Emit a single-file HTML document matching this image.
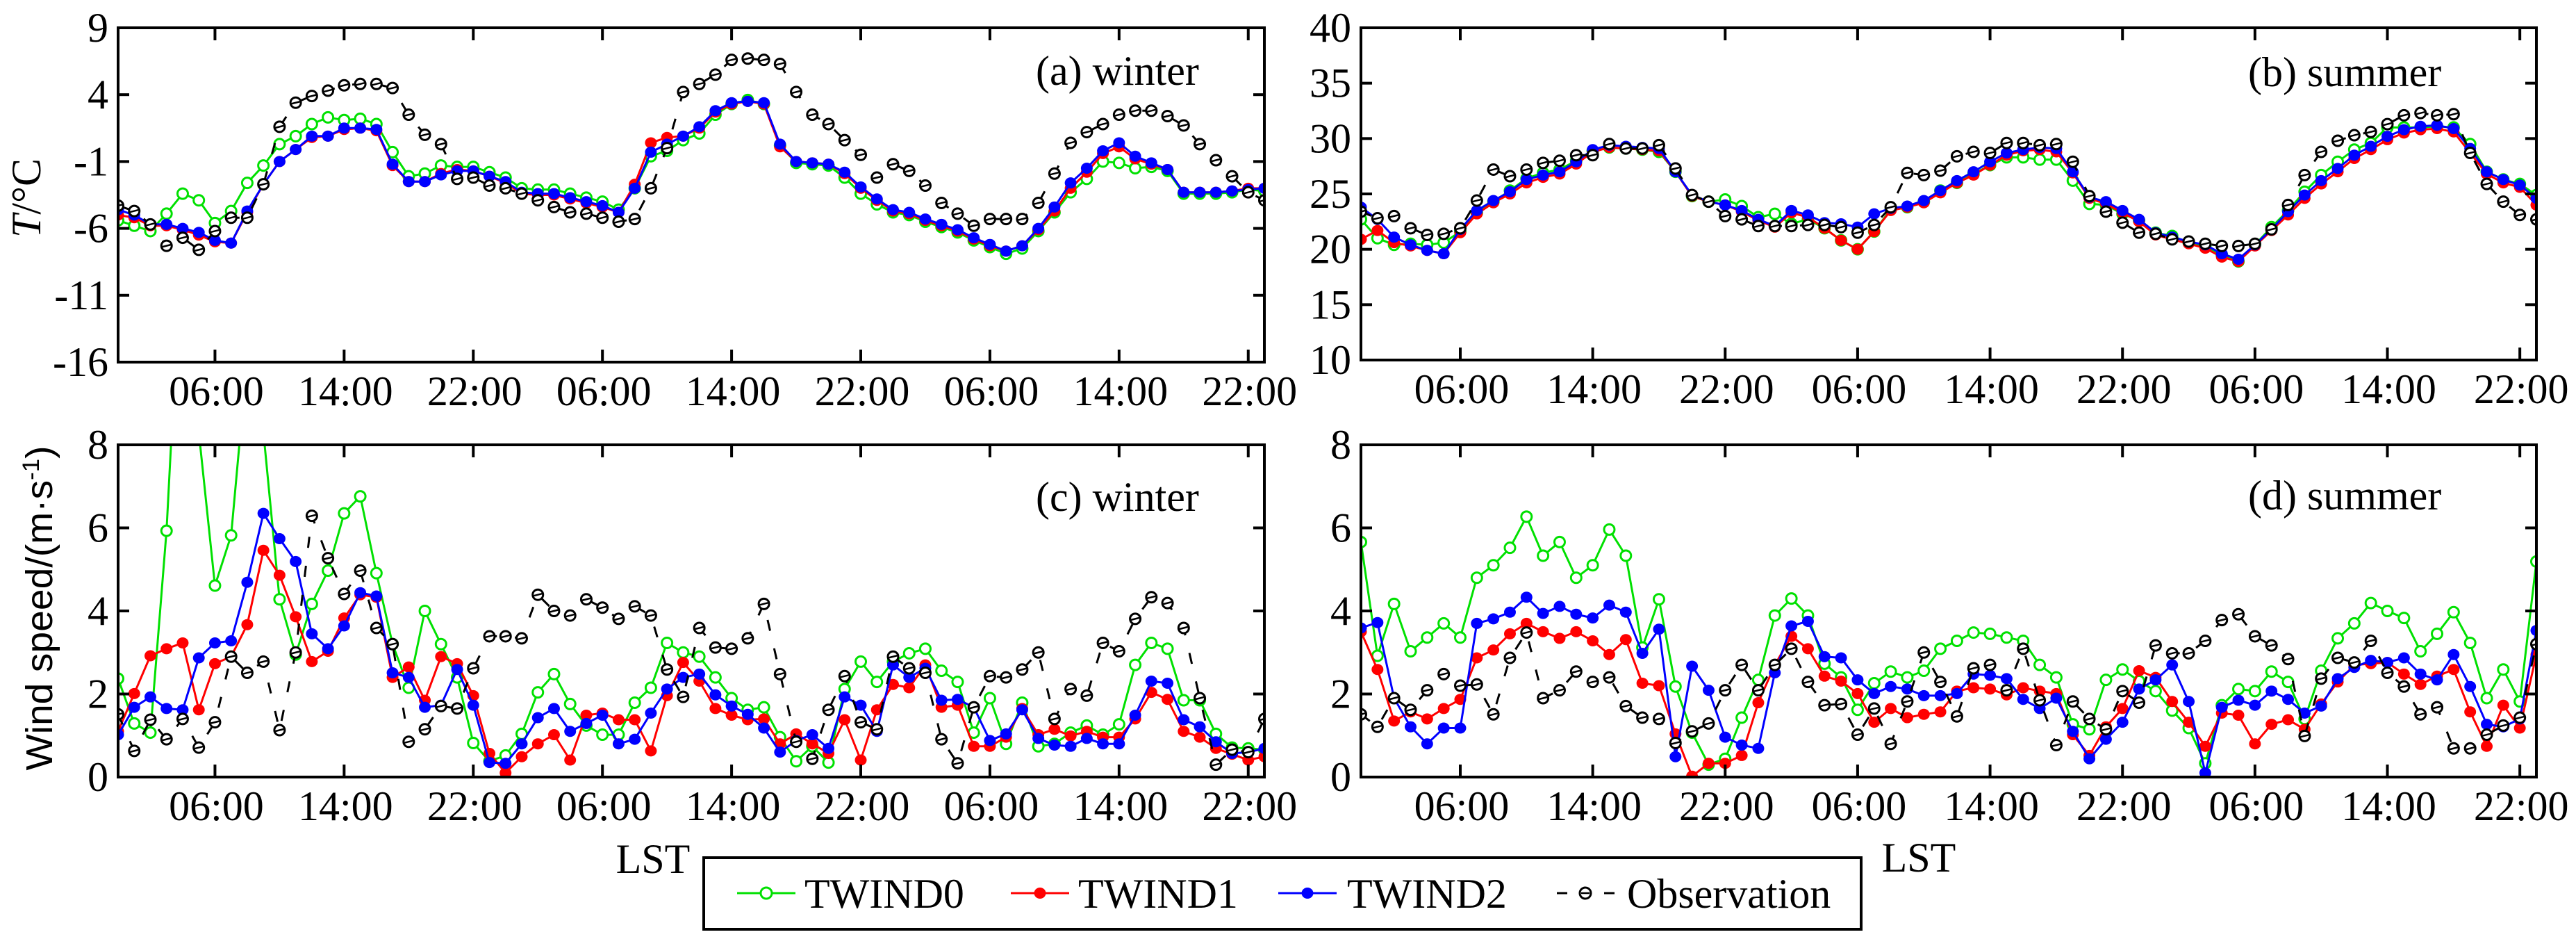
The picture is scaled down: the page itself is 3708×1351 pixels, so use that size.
<!DOCTYPE html>
<html><head><meta charset="utf-8"><style>
html,body{margin:0;padding:0;background:#fff;}
svg{display:block;font-family:"Liberation Serif",serif;}
</style></head><body>
<svg id="chart" width="3708" height="1351" viewBox="0 0 3708 1351" xmlns="http://www.w3.org/2000/svg">
<defs>
<clipPath id="clipA"><rect x="170" y="39" width="1652" height="483"/></clipPath>
<clipPath id="clipB"><rect x="1959" y="39" width="1694" height="479"/></clipPath>
<clipPath id="clipC"><rect x="170" y="640" width="1652" height="479"/></clipPath>
<clipPath id="clipD"><rect x="1959" y="640" width="1694" height="479"/></clipPath>
</defs>
<g id="layer"></g>
<text x="940" y="1256" font-size="60" text-anchor="middle">LST</text>
<text x="2762" y="1254" font-size="60" text-anchor="middle">LST</text>
<text transform="translate(58,285) rotate(-90)" font-size="60" text-anchor="middle"><tspan font-style="italic">T</tspan>/°C</text>
<text transform="translate(75,875) rotate(-90)" font-family="Liberation Sans, sans-serif" font-size="54" text-anchor="middle" textLength="467" lengthAdjust="spacingAndGlyphs">Wind speed/(m·s<tspan baseline-shift="super" font-size="34">-1</tspan>)</text>
<g>
<rect x="1013" y="1234" width="1666" height="103" fill="#fff" stroke="#000" stroke-width="4"/>
<g>
<line x1="1061" y1="1285" x2="1145" y2="1285" stroke="#00e000" stroke-width="3"/>
<ellipse cx="1103" cy="1285" rx="8" ry="8" fill="#fff" stroke="#00e000" stroke-width="3"/>
<text x="1158" y="1306" font-size="60">TWIND0</text></g>
<g>
<line x1="1455" y1="1285" x2="1539" y2="1285" stroke="#ff0000" stroke-width="3"/>
<ellipse cx="1497" cy="1285" rx="8.5" ry="8" fill="#ff0000"/>
<text x="1552" y="1306" font-size="60">TWIND1</text></g>
<g>
<line x1="1840" y1="1285" x2="1924" y2="1285" stroke="#0000ff" stroke-width="3"/>
<ellipse cx="1882" cy="1285" rx="8.5" ry="8" fill="#0000ff"/>
<text x="1939" y="1306" font-size="60">TWIND2</text></g>
<g>
<line x1="2241" y1="1285" x2="2256" y2="1285" stroke="#000" stroke-width="3"/>
<line x1="2309" y1="1285" x2="2324" y2="1285" stroke="#000" stroke-width="3"/>
<ellipse cx="2282" cy="1285" rx="8" ry="8" fill="#fff" stroke="#000" stroke-width="3"/>
<line x1="2276" y1="1285" x2="2288" y2="1285" stroke="#000" stroke-width="2.5"/>
<text x="2342" y="1306" font-size="60">Observation</text></g>
</g>
</svg>
<script>
// ---- data (hourly, 72 points) ----
const hours = [];
for (let i = 0; i < 72; i++) hours.push(i);
const xTickHours = [6, 14, 22, 30, 38, 46, 54, 62, 70];
const xTickLabels = ["06:00","14:00","22:00","06:00","14:00","22:00","06:00","14:00","22:00"];
const tTicksA = [9, 4, -1, -6, -11, -16];
const tTicksB = [40, 35, 30, 25, 20, 15, 10];
const wTicks = [8, 6, 4, 2, 0];

const aTWIND0 = [-5.4,-5.8,-6.2,-4.9,-3.4,-3.9,-5.6,-4.7,-2.6,-1.3,0.3,0.9,1.8,2.3,2.1,2.2,1.8,-0.3,-2.1,-1.9,-1.3,-1.4,-1.4,-1.8,-2.2,-3.0,-3.1,-3.1,-3.4,-3.7,-4.0,-4.6,-3.0,-0.6,-0.2,0.6,1.1,2.5,3.3,3.6,3.3,0.2,-1.1,-1.2,-1.3,-2.2,-3.4,-4.2,-4.8,-5.0,-5.5,-5.9,-6.3,-6.9,-7.4,-7.9,-7.5,-6.2,-4.8,-3.3,-2.3,-1.0,-1.1,-1.5,-1.4,-1.7,-3.4,-3.4,-3.4,-3.3,-3.1,-3.2];
const aTWIND1 = [-5.0,-5.2,-5.8,-5.8,-6.1,-6.5,-7.0,-7.1,-4.8,-2.7,-1.0,-0.1,0.8,0.9,1.4,1.5,1.3,-1.3,-2.5,-2.5,-1.9,-1.6,-1.7,-2.1,-2.6,-3.4,-3.5,-3.5,-3.8,-4.1,-4.4,-4.8,-2.7,0.4,0.8,0.9,1.5,2.7,3.3,3.5,3.3,0.1,-1.0,-1.1,-1.2,-1.9,-3.0,-3.9,-4.7,-4.9,-5.4,-5.8,-6.2,-6.8,-7.3,-7.7,-7.3,-6.1,-4.7,-3.0,-1.8,-0.4,0.1,-0.8,-1.2,-1.6,-3.3,-3.3,-3.3,-3.2,-3.0,-3.0];
const aTWIND2 = [-4.6,-5.0,-5.7,-5.7,-6.0,-6.3,-6.9,-7.1,-4.7,-2.7,-1.0,-0.1,0.9,0.9,1.5,1.5,1.4,-1.2,-2.5,-2.5,-2.0,-1.7,-1.7,-2.1,-2.5,-3.3,-3.4,-3.4,-3.7,-4.0,-4.3,-4.8,-3.0,-0.3,0.3,0.9,1.6,2.8,3.4,3.5,3.4,0.3,-1.0,-1.1,-1.2,-1.8,-2.9,-3.8,-4.6,-4.8,-5.3,-5.7,-6.1,-6.7,-7.2,-7.7,-7.3,-6.0,-4.4,-2.6,-1.5,-0.2,0.4,-0.6,-1.1,-1.6,-3.3,-3.3,-3.3,-3.2,-3.1,-3.0];
const aObs = [-4.3,-4.7,-5.7,-7.3,-6.7,-7.6,-6.2,-5.2,-5.2,-2.7,1.6,3.4,3.9,4.3,4.7,4.8,4.8,4.5,2.5,1.0,0.3,-2.3,-2.2,-2.8,-3.0,-3.4,-3.9,-4.4,-4.8,-4.9,-5.2,-5.5,-5.3,-3.0,0.0,4.2,4.8,5.5,6.6,6.7,6.6,6.3,4.2,2.5,1.8,0.6,-0.5,-2.2,-1.2,-1.7,-2.8,-4.1,-4.9,-5.8,-5.3,-5.3,-5.3,-4.1,-1.9,0.4,1.2,1.8,2.5,2.8,2.8,2.4,1.7,0.3,-0.9,-2.1,-3.3,-3.9];

const bTWIND0 = [22.7,21.0,20.4,20.5,20.4,20.6,21.6,23.3,24.3,25.3,26.4,26.9,27.2,28.0,28.9,29.2,29.1,29.0,28.8,27.0,24.8,24.3,24.5,23.9,22.9,23.2,22.3,22.7,21.9,20.8,20.0,21.6,23.6,23.8,24.3,25.3,26.0,26.8,27.6,28.3,28.3,28.1,28.1,26.2,24.1,24.0,23.2,22.6,21.5,21.2,20.6,20.3,19.5,18.9,20.4,22.0,23.5,25.2,26.7,27.9,29.0,29.6,31.0,31.0,31.0,31.1,31.0,29.5,27.0,26.3,25.9,24.9];
const bTWIND1 = [20.9,21.7,20.6,20.3,19.9,19.6,21.5,23.2,24.2,25.0,26.0,26.5,26.8,27.7,28.8,29.2,29.1,29.0,28.9,27.0,24.8,24.3,24.0,23.4,22.6,22.0,23.3,22.9,21.9,20.8,20.0,21.6,23.5,23.8,24.2,25.1,26.0,26.7,27.6,28.5,28.9,29.0,28.8,26.9,24.6,24.1,23.3,22.5,21.3,20.9,20.5,20.1,19.3,18.9,20.3,21.7,23.1,24.6,25.9,27.0,28.2,29.0,29.9,30.5,30.8,30.9,30.6,28.7,26.8,26.0,25.6,24.0];
const bTWIND2 = [23.8,22.7,21.1,20.4,19.9,19.6,21.8,23.5,24.4,25.2,26.3,26.7,27.0,27.9,29.0,29.4,29.3,29.2,29.1,27.0,24.9,24.3,24.0,23.5,22.7,22.1,23.5,23.1,22.4,22.3,22.0,23.2,23.7,23.9,24.4,25.3,26.2,27.0,27.9,28.7,29.0,29.2,29.1,27.0,24.7,24.3,23.5,22.7,21.5,21.1,20.7,20.4,19.6,19.1,20.4,21.8,23.4,24.9,26.2,27.3,28.5,29.3,30.2,30.8,31.1,31.2,30.9,29.1,27.0,26.3,25.8,24.6];
const bObs = [23.4,22.8,23.0,21.9,21.3,21.4,21.9,24.4,27.2,26.6,27.2,27.8,28.0,28.5,28.5,29.5,29.1,29.1,29.4,27.3,24.9,24.3,23.0,22.7,22.1,22.1,22.1,22.2,22.2,22.0,21.5,22.2,23.8,26.9,26.7,27.1,28.4,28.8,28.7,29.6,29.6,29.4,29.5,27.9,24.8,23.4,22.4,21.5,21.4,20.9,20.7,20.5,20.3,20.3,20.5,21.8,24.0,26.7,28.8,29.8,30.3,30.6,31.3,32.1,32.3,32.1,32.2,28.7,25.9,24.3,23.1,22.7];

const cTWIND0 = [2.37,1.29,1.07,5.93,13.4,8.3,4.61,5.82,10.1,8.3,4.28,2.95,4.17,4.97,6.35,6.76,4.91,3.2,2.15,4.0,3.2,2.4,0.82,0.38,0.52,1.04,2.04,2.48,1.76,1.24,1.02,1.02,1.79,2.15,3.23,3.0,2.9,2.4,1.9,1.62,1.68,0.96,0.38,0.74,0.35,2.12,2.78,2.29,2.78,2.98,3.09,2.56,2.29,1.07,1.9,0.8,1.79,0.74,0.8,1.07,1.24,1.02,1.27,2.7,3.23,3.09,1.85,1.85,1.04,0.71,0.69,0.66];
const cTWIND1 = [1.1,2.01,2.92,3.09,3.23,1.62,2.73,2.9,3.67,5.46,4.86,3.86,2.78,3.03,3.83,4.39,4.33,2.4,2.65,1.85,2.9,2.73,1.96,0.57,0.1,0.49,0.8,1.02,0.41,1.49,1.54,1.38,1.38,0.63,1.96,2.76,2.31,1.65,1.49,1.38,1.4,0.8,1.04,0.8,0.57,1.38,0.41,1.62,2.23,2.15,2.7,1.68,1.73,0.74,0.74,0.96,1.65,1.02,1.15,0.99,1.1,0.96,0.96,1.4,2.04,1.87,1.1,0.96,0.69,0.55,0.41,0.49];
const cTWIND2 = [1.02,1.68,1.93,1.65,1.62,2.87,3.23,3.28,4.69,6.35,5.74,5.19,3.45,3.09,3.64,4.44,4.36,2.51,2.4,1.68,1.73,2.59,1.73,0.35,0.33,0.8,1.43,1.65,1.1,1.29,1.49,0.8,0.91,1.54,2.12,2.4,2.48,1.98,1.71,1.51,1.18,0.6,0.88,1.02,0.69,1.93,1.73,1.1,2.7,2.4,2.62,1.85,1.87,1.68,0.88,1.04,1.62,0.93,0.77,0.74,0.93,0.8,0.8,1.49,2.31,2.26,1.38,1.21,0.85,0.57,0.6,0.69];
const cObs = [1.51,0.63,1.38,0.91,1.4,0.71,1.32,2.9,2.51,2.78,1.13,3.0,6.29,5.27,4.41,4.97,3.59,3.2,0.85,1.15,1.71,1.65,2.62,3.39,3.39,3.34,4.39,4.0,3.89,4.28,4.08,3.81,4.11,3.89,2.59,1.93,3.59,3.12,3.09,3.34,4.17,2.48,0.85,0.44,1.62,2.43,1.32,1.15,2.9,2.62,2.51,0.91,0.33,1.68,2.43,2.4,2.59,3.0,1.4,2.12,1.96,3.23,3.03,3.81,4.33,4.19,3.59,1.9,0.3,0.66,0.6,1.4];

const dTWIND0 = [5.66,2.92,4.17,3.03,3.36,3.7,3.36,4.8,5.1,5.52,6.27,5.33,5.66,4.8,5.1,5.96,5.33,3.12,4.28,2.18,1.07,0.3,0.44,1.43,2.34,3.89,4.3,3.89,2.73,2.4,1.62,2.26,2.54,2.4,2.56,3.09,3.28,3.48,3.45,3.36,3.28,2.7,2.4,1.27,1.15,2.34,2.59,2.31,2.07,1.6,1.18,0.33,1.73,2.12,2.07,2.54,2.29,1.4,2.56,3.34,3.7,4.19,4.0,3.83,3.03,3.45,3.97,3.23,1.9,2.59,1.82,5.19];
const dTWIND1 = [3.5,2.59,1.35,1.57,1.4,1.65,1.87,2.87,3.06,3.45,3.7,3.5,3.34,3.5,3.28,2.95,3.31,2.26,2.2,1.04,0.02,0.33,0.33,0.52,1.79,2.7,3.39,3.09,2.43,2.31,2.01,1.32,1.65,1.43,1.51,1.57,2.07,2.15,2.12,1.98,2.15,2.07,2.01,1.02,0.52,1.21,1.65,2.56,2.4,1.82,1.32,0.74,1.54,1.49,0.8,1.27,1.38,1.15,1.76,2.29,2.7,2.73,2.76,2.48,2.23,2.43,2.59,1.57,0.74,1.73,1.18,2.95];
const dTWIND2 = [3.59,3.72,1.9,1.21,0.8,1.18,1.18,3.7,3.81,3.97,4.33,3.94,4.11,3.92,3.83,4.14,3.97,2.98,3.56,0.49,2.67,2.09,0.96,0.77,0.69,2.51,3.64,3.75,2.9,2.87,2.34,2.01,2.18,2.12,1.96,1.96,2.01,2.48,2.45,2.37,1.87,1.65,1.9,1.1,0.44,0.91,1.32,2.12,2.34,2.7,1.82,0.1,1.68,1.85,1.73,2.07,1.87,1.54,1.71,2.37,2.64,2.81,2.76,2.87,2.48,2.34,2.95,2.18,1.27,1.21,1.4,3.53];
const dObs = [1.51,1.21,1.9,1.62,2.09,2.48,2.2,2.23,1.51,2.87,3.48,1.9,2.09,2.54,2.29,2.4,1.71,1.43,1.4,0.82,1.1,1.29,2.09,2.7,2.09,2.7,3.09,2.29,1.73,1.76,1.02,1.65,0.8,1.82,3.0,2.29,1.46,2.62,2.7,2.09,3.09,1.85,0.77,1.82,1.4,1.15,2.07,1.79,3.17,2.98,2.98,3.28,3.78,3.92,3.39,3.17,2.84,0.99,2.37,2.87,2.76,3.28,2.51,2.18,1.51,1.68,0.69,0.69,1.02,1.24,1.43,3.2];

// ---- drawing ----
const NS = "http://www.w3.org/2000/svg";
const layer = document.getElementById("layer");
function mk(tag, attrs, parent) {
  const e = document.createElementNS(NS, tag);
  for (const k in attrs) e.setAttribute(k, attrs[k]);
  (parent || layer).appendChild(e);
  return e;
}
function panel(cfg) {
  const g = mk("g", {});
  
  
  const xs = h => cfg.x0 + h * (cfg.x1 - cfg.x0) / 71;
  const ys = v => cfg.y0 + (cfg.vmax - v) * (cfg.y1 - cfg.y0) / (cfg.vmax - cfg.vmin);
  const sg = mk("g", {"clip-path": "url(#" + cfg.clip + ")"}, g);
  const series = [
    {d: cfg.s0, col: "#00e000", fill: "#fff", dash: null, name: "twind0"},
    {d: cfg.s1, col: "#ff0000", fill: "#ff0000", dash: null, name: "twind1"},
    {d: cfg.s2, col: "#0000ff", fill: "#0000ff", dash: null, name: "twind2"},
    {d: cfg.obs, col: "#000", fill: "#fff", dash: "16 26", name: "observation"}
  ];
  series.forEach(s => {
    const grp = mk("g", {}, sg);
    
    
    const pts = s.d.map((v, i) => xs(hours[i]).toFixed(1) + "," + ys(v).toFixed(1)).join(" ");
    const pl = mk("polyline", {points: pts, fill: "none", stroke: s.col, "stroke-width": 3}, grp);
    if (s.dash) pl.setAttribute("stroke-dasharray", s.dash);
    
    
    s.d.forEach((v, i) => {
      const cx = xs(hours[i]), cy = ys(v);
      const isFilled = s.fill !== "#fff";
      const m = mk("ellipse", {cx: cx, cy: cy, rx: isFilled ? 8.5 : 7.5, ry: isFilled ? 8 : 7.5, fill: s.fill, stroke: isFilled ? "none" : s.col, "stroke-width": 3}, grp);
      
      
      if (s.name === "observation") {
        mk("line", {x1: cx - 6, y1: cy + 1.5, x2: cx + 6, y2: cy - 1.5, stroke: "#000", "stroke-width": 2.5}, grp);
      }
    });
  });
  const fr = mk("rect", {x: cfg.x0, y: cfg.y0, width: cfg.x1 - cfg.x0, height: cfg.y1 - cfg.y0, fill: "none", stroke: "#000", "stroke-width": 4}, g);
  
  
  xTickHours.forEach((h, i) => {
    const x = xs(h);
    mk("line", {x1: x, y1: cfg.y1, x2: x, y2: cfg.y1 - 18, stroke: "#000", "stroke-width": 4}, g);
    mk("line", {x1: x, y1: cfg.y0, x2: x, y2: cfg.y0 + 18, stroke: "#000", "stroke-width": 4}, g);
    const t = mk("text", {x: x + 2, y: cfg.y1 + 62, "font-size": 60, "text-anchor": "middle"}, g);
    t.textContent = xTickLabels[i];
    
    
  });
  cfg.ticks.forEach(v => {
    const y = ys(v);
    mk("line", {x1: cfg.x0, y1: y, x2: cfg.x0 + 16, y2: y, stroke: "#000", "stroke-width": 4}, g);
    mk("line", {x1: cfg.x1, y1: y, x2: cfg.x1 - 16, y2: y, stroke: "#000", "stroke-width": 4}, g);
    const t = mk("text", {x: cfg.x0 - 14, y: y + 20, "font-size": 60, "text-anchor": "end"}, g);
    t.textContent = String(v);
    
    
  });
  const lab = mk("text", {x: cfg.lx, y: cfg.ly, "font-size": 60}, g);
  lab.textContent = cfg.label;
  
  
}
panel({name: "panel-a-winter-temperature", x0: 170, x1: 1820, y0: 40, y1: 521, vmin: -16, vmax: 9, ticks: tTicksA, clip: "clipA", s0: aTWIND0, s1: aTWIND1, s2: aTWIND2, obs: aObs, label: "(a) winter", lx: 1491, ly: 122});
panel({name: "panel-b-summer-temperature", x0: 1959, x1: 3651, y0: 40, y1: 518, vmin: 10, vmax: 40, ticks: tTicksB, clip: "clipB", s0: bTWIND0, s1: bTWIND1, s2: bTWIND2, obs: bObs, label: "(b) summer", lx: 3236, ly: 124});
panel({name: "panel-c-winter-wind", x0: 170, x1: 1820, y0: 640, y1: 1118, vmin: 0, vmax: 8, ticks: wTicks, clip: "clipC", s0: cTWIND0, s1: cTWIND1, s2: cTWIND2, obs: cObs, label: "(c) winter", lx: 1491, ly: 735});
panel({name: "panel-d-summer-wind", x0: 1959, x1: 3651, y0: 640, y1: 1118, vmin: 0, vmax: 8, ticks: wTicks, clip: "clipD", s0: dTWIND0, s1: dTWIND1, s2: dTWIND2, obs: dObs, label: "(d) summer", lx: 3236, ly: 733});
</script>
</body></html>
